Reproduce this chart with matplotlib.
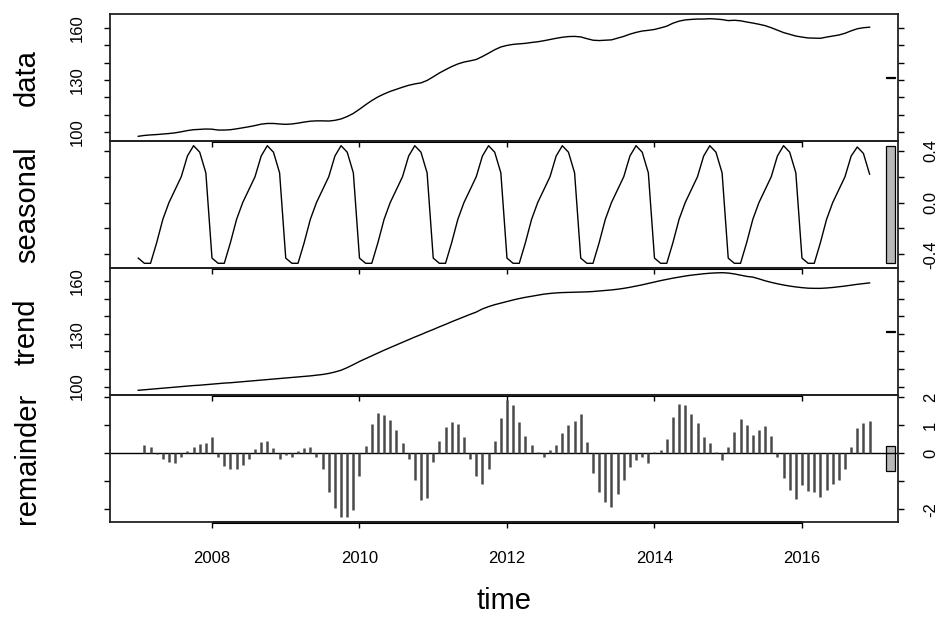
import numpy as np
import matplotlib.pyplot as plt
from matplotlib.patches import Rectangle

plt.rcParams['font.family'] = ['Liberation Sans', 'DejaVu Sans']

# monthly series, Jan 2007 .. Dec 2016 (STL decomposition)
start_year = 2007
n_months = 120

data = [
    97.5, 98.0, 98.3, 98.5, 98.8, 99.1, 99.5, 100.1, 100.8, 101.3, 101.5, 101.7,
    101.6, 101.1, 101.1, 101.3, 101.8, 102.4, 103.0, 103.7, 104.5, 104.9, 104.9, 104.6,
    104.4, 104.6, 105.1, 105.7, 106.2, 106.4, 106.4, 106.3, 106.7, 107.5, 108.9, 110.7,
    113.1, 115.7, 118.1, 120.2, 121.9, 123.4, 124.6, 125.8, 126.9, 127.7, 128.3, 129.7,
    131.8, 134.0, 135.9, 137.7, 139.2, 140.3, 141.0, 141.8, 143.5, 145.4, 147.4, 149.0,
    149.9, 150.5, 150.8, 151.1, 151.6, 152.0, 152.6, 153.3, 154.0, 154.6, 155.0, 155.1,
    154.8, 153.8, 152.9, 152.7, 152.9, 153.1, 154.1, 155.1, 156.4, 157.4, 158.2, 158.6,
    159.1, 160.0, 161.0, 162.7, 163.9, 164.6, 164.9, 165.1, 165.1, 165.3, 165.1, 164.8,
    164.2, 164.4, 164.1, 163.4, 162.8, 162.1, 161.3, 160.1, 158.7, 157.3, 156.3, 155.3,
    154.7, 154.2, 154.1, 154.0, 154.7, 155.3, 155.9, 156.9, 158.3, 159.5, 160.1, 160.4,
]

seasonal = [
    -0.43, -0.47, -0.47, -0.31, -0.13, 0.00, 0.10, 0.20, 0.36, 0.44, 0.39, 0.23,
    -0.43, -0.47, -0.47, -0.31, -0.13, 0.00, 0.10, 0.20, 0.36, 0.44, 0.39, 0.23,
    -0.43, -0.47, -0.47, -0.31, -0.13, 0.00, 0.10, 0.20, 0.36, 0.44, 0.39, 0.23,
    -0.43, -0.47, -0.47, -0.31, -0.13, 0.00, 0.10, 0.20, 0.36, 0.44, 0.39, 0.23,
    -0.43, -0.47, -0.47, -0.31, -0.13, 0.00, 0.10, 0.20, 0.36, 0.44, 0.39, 0.23,
    -0.43, -0.47, -0.47, -0.31, -0.13, 0.00, 0.10, 0.20, 0.36, 0.44, 0.39, 0.23,
    -0.43, -0.47, -0.47, -0.31, -0.13, 0.00, 0.10, 0.20, 0.36, 0.44, 0.39, 0.23,
    -0.43, -0.47, -0.47, -0.31, -0.13, 0.00, 0.10, 0.20, 0.36, 0.44, 0.39, 0.23,
    -0.43, -0.47, -0.47, -0.31, -0.13, 0.00, 0.10, 0.20, 0.36, 0.44, 0.39, 0.23,
    -0.43, -0.47, -0.47, -0.31, -0.13, 0.00, 0.10, 0.20, 0.36, 0.43, 0.38, 0.22,
]

trend = [
    97.9, 98.2, 98.5, 98.8, 99.1, 99.4, 99.7, 100.0, 100.3, 100.6, 100.8, 101.1,
    101.4, 101.7, 102.0, 102.2, 102.5, 102.8, 103.1, 103.4, 103.7, 104.0, 104.3, 104.6,
    104.9, 105.2, 105.5, 105.8, 106.1, 106.5, 106.9, 107.5, 108.3, 109.3, 110.8, 112.5,
    114.3, 115.9, 117.5, 119.1, 120.7, 122.2, 123.7, 125.2, 126.7, 128.2, 129.6, 131.1,
    132.5, 134.0, 135.4, 136.9, 138.3, 139.7, 141.1, 142.4, 144.2, 145.5, 146.6, 147.5,
    148.4, 149.3, 150.1, 150.8, 151.4, 152.0, 152.6, 153.0, 153.3, 153.5, 153.6, 153.7,
    153.8, 153.9, 154.1, 154.4, 154.7, 155.0, 155.4, 155.9, 156.5, 157.2, 157.9, 158.7,
    159.5, 160.3, 161.0, 161.7, 162.3, 162.9, 163.4, 163.8, 164.2, 164.5, 164.7, 164.8,
    164.6, 164.1, 163.4, 162.7, 162.3, 161.3, 160.2, 159.3, 158.5, 157.8, 157.2, 156.7,
    156.3, 156.0, 155.9, 155.9, 156.1, 156.4, 156.8, 157.2, 157.7, 158.2, 158.6, 159.0,
]

remainder = [
    0.02, 0.29, 0.23, -0.03, -0.20, -0.32, -0.35, -0.12, 0.09, 0.23, 0.33, 0.36,
    0.58, -0.12, -0.47, -0.58, -0.58, -0.43, -0.20, 0.13, 0.39, 0.44, 0.18, -0.20,
    -0.06, -0.12, 0.09, 0.19, 0.21, -0.14, -0.58, -1.37, -1.95, -2.28, -2.28, -2.01,
    -0.82, 0.25, 1.05, 1.42, 1.36, 1.18, 0.82, 0.36, -0.20, -0.96, -1.68, -1.60,
    -0.32, 0.42, 0.94, 1.09, 1.05, 0.58, -0.20, -0.82, -1.08, -0.58, 0.44, 1.26,
    1.90, 1.71, 1.12, 0.62, 0.30, 0.04, -0.12, 0.12, 0.29, 0.70, 0.99, 1.15,
    1.38, 0.41, -0.69, -1.39, -1.72, -1.92, -1.45, -0.96, -0.49, -0.26, -0.12, -0.34,
    0.03, 0.12, 0.50, 1.30, 1.75, 1.71, 1.38, 1.06, 0.56, 0.35, 0.04, -0.23,
    0.23, 0.74, 1.20, 1.00, 0.65, 0.82, 0.95, 0.62, -0.14, -0.90, -1.31, -1.64,
    -1.13, -1.35, -1.37, -1.57, -1.31, -1.08, -0.96, -0.55, 0.23, 0.88, 1.06, 1.15,
]

panel_names = ["data", "seasonal", "trend", "remainder"]
year_ticks = [2008, 2010, 2012, 2014, 2016]
y_ticks = [
    [100, 110, 120, 130, 140, 150, 160],
    [-0.4, -0.2, 0.0, 0.2, 0.4],
    [100, 110, 120, 130, 140, 150, 160],
    [-2, -1, 0, 1, 2],
]
y_labels = [
    ["100", "", "", "130", "", "", "160"],
    ["-0.4", "", "0.0", "", "0.4"],
    ["100", "", "", "130", "", "", "160"],
    ["-2", "", "0", "1", "2"],
]

t = start_year + np.arange(n_months) / 12.0
series = [np.array(data), np.array(seasonal), np.array(trend), np.array(remainder)]

W, H = 945, 617
fig = plt.figure(figsize=(W / 100, H / 100), dpi=100)

left_px, right_px = 110, 898
tops = [14, 141, 268, 395]
panel_h = 127
xlim = (2006.617, 2017.302)
bar_x0, bar_x1 = 2017.139, 2017.261

# range bars all have the height of the smallest panel range
bar_h = min(np.ptp(s) for s in series)

for k, (name, y) in enumerate(zip(panel_names, series)):
    ax = fig.add_axes([left_px / W, 1 - (tops[k] + panel_h) / H,
                       (right_px - left_px) / W, panel_h / H])
    ax.set_facecolor("none")
    if name == "remainder":
        ax.axhline(0, color="black", lw=1.0)
        ax.vlines(t, 0, y, color="#4a4a4a", lw=1.8)
    else:
        ax.plot(t, y, color="black", lw=1.0)

    lo, hi = y.min(), y.max()
    pad = 0.04 * (hi - lo)
    ax.set_ylim(lo - pad, hi + pad)
    ax.set_xlim(*xlim)

    mid = (lo + hi) / 2
    ax.add_patch(Rectangle((bar_x0, mid - bar_h / 2), bar_x1 - bar_x0, bar_h,
                           facecolor="#b8b8b8", edgecolor="black", lw=0.9))

    for sp in ax.spines.values():
        sp.set_linewidth(1.3)
        sp.set_color("#222222")

    # x axis: ticks on every panel, labels only on the last one
    ax.set_xticks(year_ticks)
    ax.plot([year_ticks[0], year_ticks[-1]], [0, 0], transform=ax.get_xaxis_transform(),
            color="black", lw=2.2, clip_on=False, solid_capstyle="butt")
    if k == 3:
        ax.set_xticklabels([str(v) for v in year_ticks], fontsize=12)
    else:
        ax.set_xticklabels([])
    ax.tick_params(axis="x", direction="out", length=4, width=1, pad=17)

    # y axis: ticks on both sides, labels alternate left/right
    ax.set_yticks(y_ticks[k])
    right = k % 2 == 1
    ax.tick_params(axis="y", direction="out", length=4, width=1, pad=14,
                   left=True, right=True, labelleft=not right, labelright=right,
                   labelsize=12)
    ax.set_yticklabels(y_labels[k], rotation=90, va="center")

    fig.text(27 / W, 1 - (tops[k] + panel_h / 2) / H, name, rotation=90,
             ha="center", va="center", fontsize=21)

fig.text(((left_px + right_px) / 2) / W, 1 - 601 / H, "time",
         ha="center", va="center", fontsize=21)

fig.savefig("out.png", dpi=100, facecolor="white")
